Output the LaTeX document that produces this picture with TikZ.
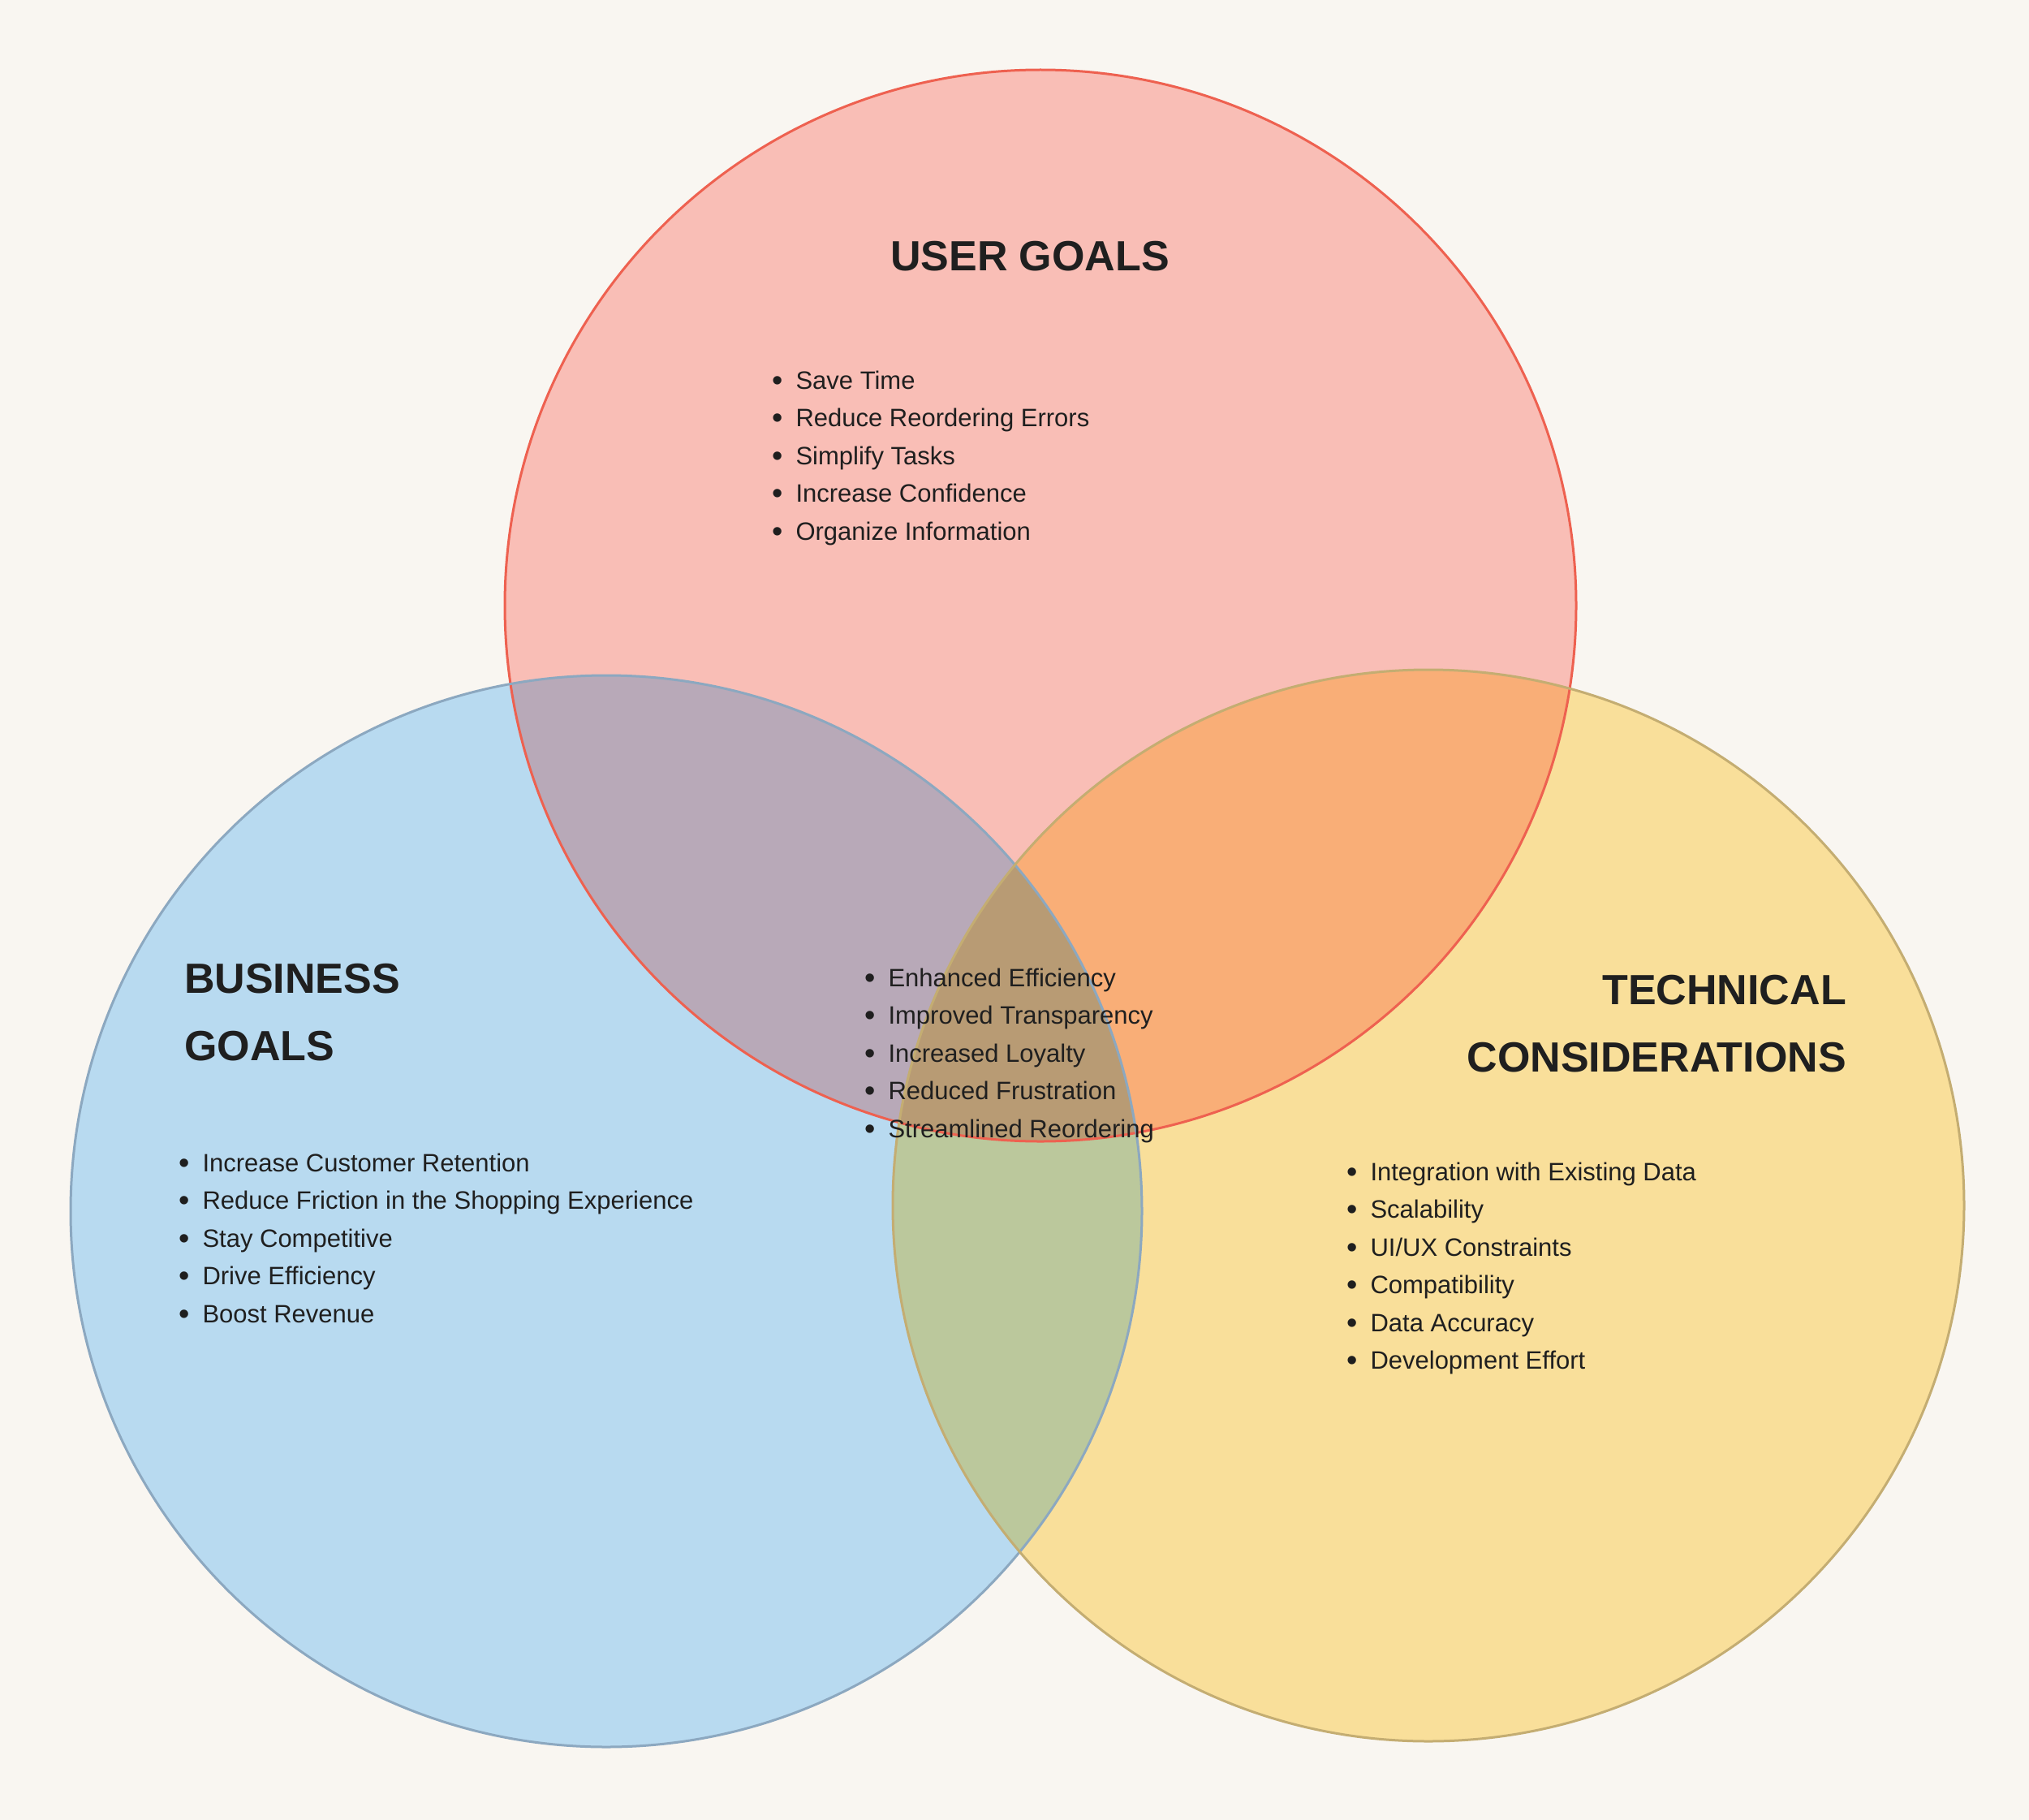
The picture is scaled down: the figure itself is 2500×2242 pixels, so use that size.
\documentclass[tikz,border=0pt]{standalone}
\usepackage{fontspec}
\setmainfont{Liberation Sans}
\usepackage{tikz}
\usetikzlibrary{positioning}
\definecolor{paper}{HTML}{F9F6F1}
\definecolor{ink}{HTML}{1F1F1F}
\definecolor{userfill}{HTML}{F9BEB6}
\definecolor{bizfill}{HTML}{B8DAF0}
\definecolor{techfill}{HTML}{F9DF9A}
\definecolor{userbiz}{HTML}{B8A9B8}
\definecolor{usertech}{HTML}{F9AE77}
\definecolor{biztech}{HTML}{BBC89C}
\definecolor{allthree}{HTML}{B89B74}
\definecolor{userline}{HTML}{EE6150}
\definecolor{bizline}{HTML}{8CA8C0}
\definecolor{techline}{HTML}{C4AD72}
\newcommand{\bul}[1]{\raisebox{-2pt}{\fontsize{38}{38}\selectfont\textbullet} & #1\\}

\begin{document}
\begin{tikzpicture}[x=1pt, y=-1pt,
  titletext/.style={inner sep=0pt, text=ink, font=\fontsize{52}{83}\selectfont\bfseries},
  listtext/.style={inner sep=0pt, anchor=base west, text=ink, font=\fontsize{31}{46.5}\selectfont},
  rim/.style={line width=3pt}]
  \useasboundingbox[fill=paper] (0,0) rectangle (2500,2242);
  \coordinate (user) at (1282,746);
  \coordinate (biz) at (747,1492);
  \coordinate (tech) at (1760,1485);

  \fill[userfill] (user) circle[radius=660];
  \fill[bizfill] (biz) circle[radius=660];
  \fill[techfill] (tech) circle[radius=660];
  \begin{scope}
    \clip (biz) circle[radius=660];
    \fill[userbiz] (user) circle[radius=660];
  \end{scope}
  \begin{scope}
    \clip (tech) circle[radius=660];
    \fill[usertech] (user) circle[radius=660];
  \end{scope}
  \begin{scope}
    \clip (tech) circle[radius=660];
    \fill[biztech] (biz) circle[radius=660];
  \end{scope}
  \begin{scope}
    \clip (tech) circle[radius=660];
    \clip (biz) circle[radius=660];
    \fill[allthree] (user) circle[radius=660];
  \end{scope}
  \draw[rim, userline] (user) circle[radius=660];
  \draw[rim, bizline] (biz) circle[radius=660];
  \draw[rim, techline] (tech) circle[radius=660];

  \node[titletext, anchor=base] (usertitle) at (1269,333) {USER GOALS};
  \node[titletext, anchor=base west] (biztitle) at (227,1223)
    {\begin{tabular}[t]{@{}l@{}}BUSINESS\\GOALS\end{tabular}};
  \node[titletext, anchor=base east] (techtitle) at (2275,1237)
    {\begin{tabular}[t]{@{}r@{}}TECHNICAL\\CONSIDERATIONS\end{tabular}};

  \node[listtext] (userlist) at (951,479) {\begin{tabular}[t]{@{}l@{\hspace{16pt}}l@{}}
    \bul{Save Time}
    \bul{Reduce Reordering Errors}
    \bul{Simplify Tasks}
    \bul{Increase Confidence}
    \bul{Organize Information}
  \end{tabular}};
  \node[listtext] (bizlist) at (220,1443) {\begin{tabular}[t]{@{}l@{\hspace{16pt}}l@{}}
    \bul{Increase Customer Retention}
    \bul{Reduce Friction in the Shopping Experience}
    \bul{Stay Competitive}
    \bul{Drive Efficiency}
    \bul{Boost Revenue}
  \end{tabular}};
  \node[listtext] (sharedlist) at (1065,1215) {\begin{tabular}[t]{@{}l@{\hspace{16pt}}l@{}}
    \bul{Enhanced Efficiency}
    \bul{Improved Transparency}
    \bul{Increased Loyalty}
    \bul{Reduced Frustration}
    \bul{Streamlined Reordering}
  \end{tabular}};
  \node[listtext] (techlist) at (1659,1454) {\begin{tabular}[t]{@{}l@{\hspace{16pt}}l@{}}
    \bul{Integration with Existing Data}
    \bul{Scalability}
    \bul{UI/UX Constraints}
    \bul{Compatibility}
    \bul{Data Accuracy}
    \bul{Development Effort}
  \end{tabular}};
\end{tikzpicture}
\end{document}
